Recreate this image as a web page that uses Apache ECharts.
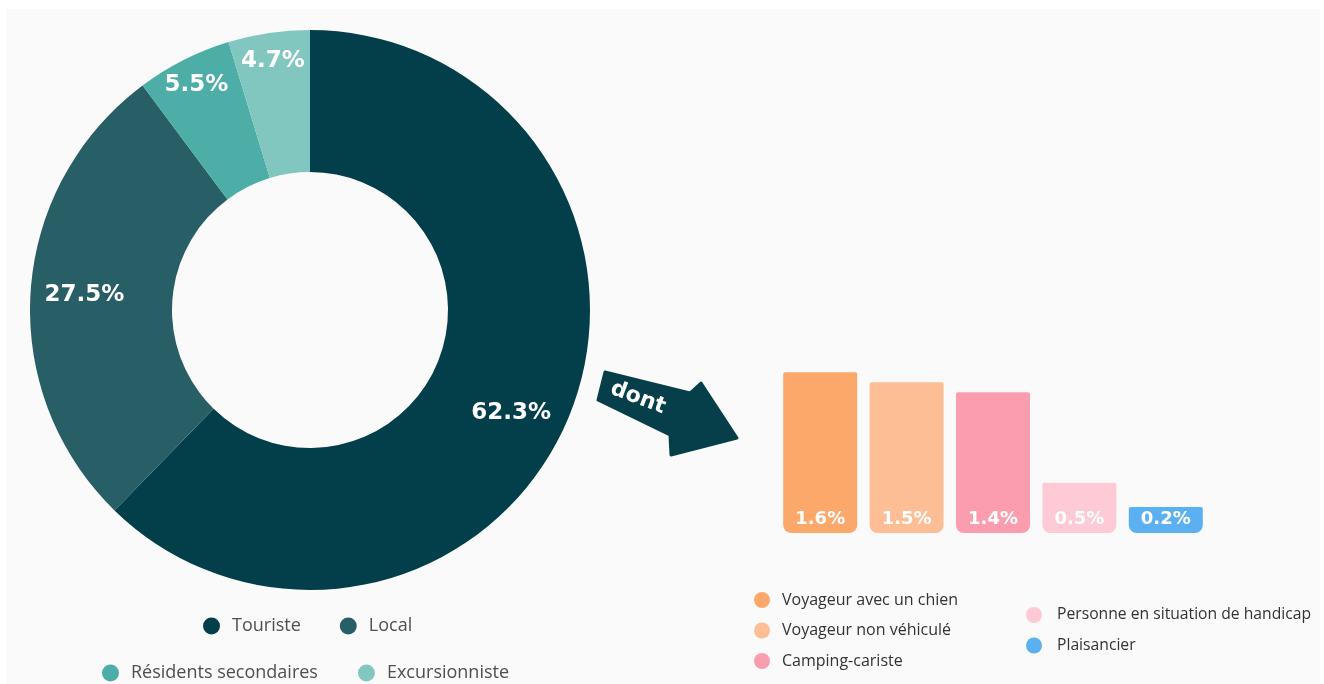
<!DOCTYPE html>
<html>
<head>
<meta charset="utf-8">
<script src="https://cdn.jsdelivr.net/npm/echarts@6/dist/echarts.min.js"></script>
<style>
  html, body { margin: 0; padding: 0; background: #ffffff; }
  #chart { width: 1324px; height: 684px; }
</style>
</head>
<body>
<div id="chart"></div>
<script>
// ---- Data ----
const pieNames = ['Touriste', 'Local', 'Résidents secondaires', 'Excursionniste'];
const pieValues = [62.3, 27.5, 5.5, 4.7];
const pieColors = ['#033f4a', '#285e66', '#4caea6', '#82c6c0'];

const barNames = ['Voyageur avec un chien', 'Voyageur non véhiculé', 'Camping-cariste', 'Personne en situation de handicap', 'Plaisancier'];
const barValues = [1.6, 1.5, 1.4, 0.5, 0.2];
const barColors = ['#fda86b', '#fdbe96', '#fb9dae', '#fdcad6', '#5bb0f1'];

const arrowLabel = 'dont';

// ---- Build ----
const chart = echarts.init(document.getElementById('chart'), null, { renderer: 'canvas' });

const PIE_CX = 310, PIE_CY = 310, PIE_R0 = 138, PIE_R = 280;

const pieSeries = {
  type: 'pie',
  name: 'profil',
  center: [PIE_CX, PIE_CY],
  radius: [PIE_R0, PIE_R],
  startAngle: 90,
  clockwise: true,
  silent: true,
  avoidLabelOverlap: false,
  emphasis: { disabled: true },
  itemStyle: { borderWidth: 0 },
  label: {
    show: true,
    position: 'inside',
    formatter: p => p.value.toFixed(1) + '%',
    color: '#ffffff',
    fontFamily: '"DejaVu Sans", sans-serif',
    fontWeight: 'bold',
    fontSize: 23
  },
  labelLine: { show: false },
  labelLayout: function (params) {
    const r = params.labelRect;
    const lx = r.x + r.width / 2, ly = r.y + r.height / 2;
    let ang = Math.atan2(ly - PIE_CY, lx - PIE_CX);
    const v = pieValues[params.dataIndex];
    // big slices: label slightly further along the arc; small slices: near outer edge
    if (v > 50) ang += 5 * Math.PI / 180;
    const target = v < 10 ? 252 : 226;
    return { x: PIE_CX + Math.cos(ang) * target, y: PIE_CY + Math.sin(ang) * target, align: 'center', verticalAlign: 'middle' };
  },
  data: pieNames.map((n, i) => ({ name: n, value: pieValues[i], itemStyle: { color: pieColors[i] } }))
};

const barSeries = barNames.map((n, i) => ({
  type: 'bar',
  name: n,
  stack: 'all',
  xAxisIndex: 0,
  yAxisIndex: 0,
  barWidth: 74,
  barMinHeight: 26,
  silent: true,
  emphasis: { disabled: true },
  itemStyle: { color: barColors[i], borderRadius: [2, 2, 8, 8] },
  label: {
    show: true,
    position: 'insideBottom',
    distance: 5,
    formatter: p => p.value.toFixed(1) + '%',
    color: '#ffffff',
    fontFamily: '"DejaVu Sans", sans-serif',
    fontWeight: 'bold',
    fontSize: 18
  },
  data: barNames.map((c, j) => (j === i ? barValues[i] : '-'))
}));

const legendText = (size, color) => ({
  fontFamily: '"Open Sans", sans-serif',
  fontSize: size,
  color: color,
  padding: [0, 0, 0, 7]
});

const option = {
  backgroundColor: '#ffffff',
  animation: false,
  grid: { left: 777, top: 332, width: 432, height: 201, containLabel: false },
  xAxis: { type: 'category', data: barNames, show: false },
  yAxis: { type: 'value', min: 0, max: 2, show: false },
  legend: [
    {
      data: pieNames.slice(0, 2), left: 203, top: 617, orient: 'horizontal', padding: 0,
      icon: 'circle', itemWidth: 17, itemHeight: 17, itemGap: 39, selectedMode: false,
      textStyle: legendText(18, '#4f4f4f')
    },
    {
      data: pieNames.slice(2), left: 102, top: 664, orient: 'horizontal', padding: 0,
      icon: 'circle', itemWidth: 17, itemHeight: 17, itemGap: 40, selectedMode: false,
      textStyle: legendText(18, '#4f4f4f')
    },
    {
      data: barNames.slice(0, 3), left: 754, top: 592, orient: 'vertical', padding: 0,
      icon: 'circle', itemWidth: 16, itemHeight: 16, itemGap: 14.5, selectedMode: false,
      textStyle: legendText(16, '#333333')
    },
    {
      data: barNames.slice(3), left: 1026, top: 607, orient: 'vertical', padding: 0,
      icon: 'circle', itemWidth: 16, itemHeight: 16, itemGap: 14.5, selectedMode: false,
      textStyle: Object.assign(legendText(15.7, '#333333'), { padding: [0, 0, 0, 10] })
    }
  ],
  graphic: [
    {
      type: 'rect', z: -10, silent: true,
      shape: { x: 6, y: 9, width: 1314, height: 680 },
      style: { fill: '#fafafa' }
    },
    {
      type: 'polygon', z: 10, silent: true,
      shape: { points: [[605, 372], [690, 393], [701, 383], [737, 438], [671, 455], [670, 435], [598, 400]] },
      style: { fill: '#063f4a', lineJoin: 'round', stroke: '#063f4a', lineWidth: 3 }
    },
    {
      type: 'text', z: 11, silent: true,
      x: 638, y: 398, rotation: -0.36,
      style: {
        text: arrowLabel, fill: '#ffffff',
        font: 'bold 22px "DejaVu Sans", sans-serif',
        align: 'center', verticalAlign: 'middle'
      }
    }
  ],
  series: [pieSeries].concat(barSeries)
};

chart.setOption(option);
</script>
</body>
</html>
